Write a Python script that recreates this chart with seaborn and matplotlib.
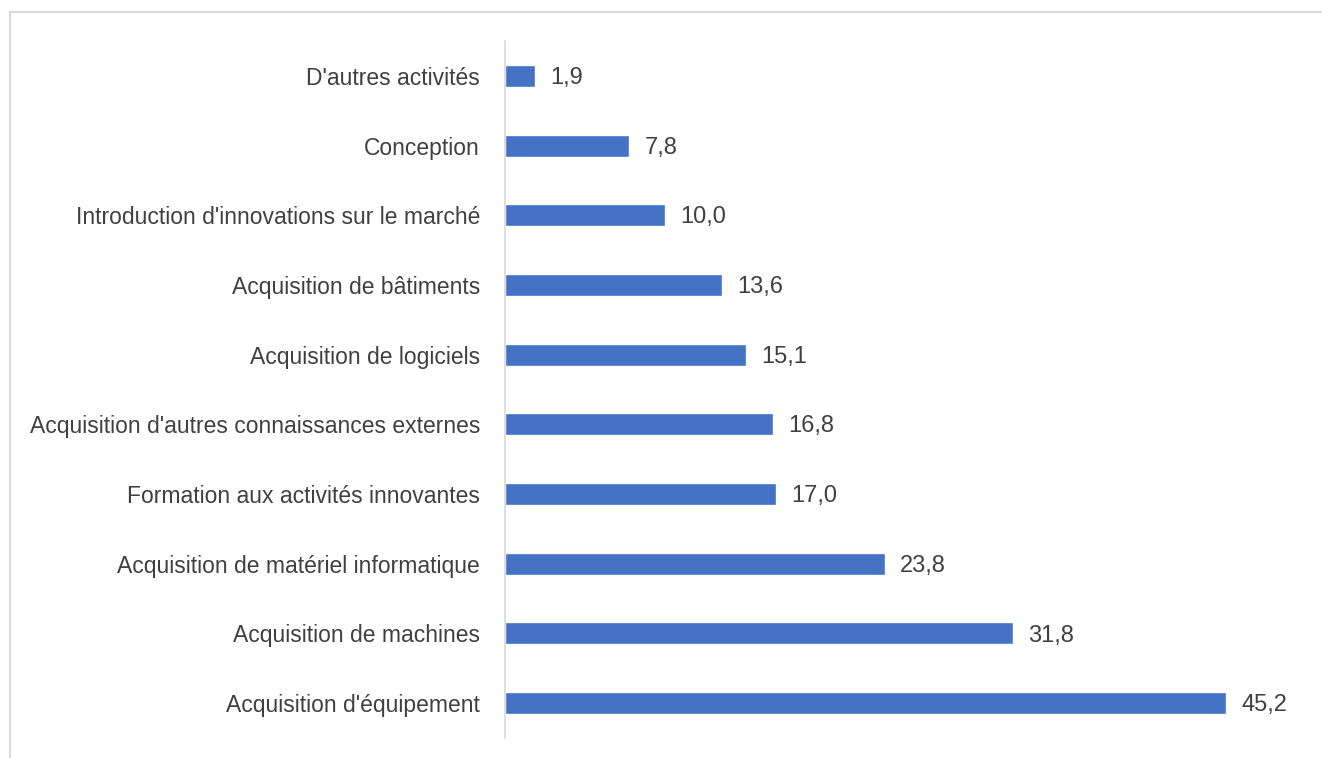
import matplotlib
matplotlib.use("Agg")
import matplotlib.pyplot as plt
import matplotlib.patches as mpatches
import seaborn as sns
import pandas as pd

# ── Data (top to bottom as in the chart) ─────────────────────
categories = [
    "D'autres activités",
    "Conception",
    "Introduction d'innovations sur le marché",
    "Acquisition de bâtiments",
    "Acquisition de logiciels",
    "Acquisition d'autres connaissances externes",
    "Formation aux activités innovantes",
    "Acquisition de matériel informatique",
    "Acquisition de machines",
    "Acquisition d'équipement",
]
values = [1.9, 7.8, 10.0, 13.6, 15.1, 16.8, 17.0, 23.8, 31.8, 45.2]

df = pd.DataFrame({"categorie": categories, "valeur": values})

sns.set_theme(style="white")
plt.rcParams["font.family"] = ["Liberation Sans Narrow", "Liberation Sans", "DejaVu Sans"]

BAR_COLOR = "#4472C4"
TEXT_COLOR = "#404040"

fig = plt.figure(figsize=(13.22, 7.58), dpi=100)
ax = fig.add_axes([505 / 1322, 1 - 738 / 758, (1303 - 505) / 1322, (738 - 41) / 758])

sns.barplot(data=df, x="valeur", y="categorie", color=BAR_COLOR,
            width=0.315, saturation=1, ax=ax)

# value labels with comma decimal
for i, v in enumerate(values):
    ax.annotate(f"{v:.1f}".replace(".", ","), xy=(v, i), xytext=(11, -1.5),
                textcoords="offset points", va="center", ha="left",
                fontsize=17, color=TEXT_COLOR)

ax.set_xlim(0, 50)
ax.set_ylim(9.5, -0.5)
ax.set_xlabel("")
ax.set_ylabel("")
ax.set_xticks([])
ax.tick_params(axis="y", length=0, pad=18, labelsize=16.5, labelcolor=TEXT_COLOR)

for side in ["top", "right", "bottom"]:
    ax.spines[side].set_visible(False)
ax.spines["left"].set_color("#d9d9d9")
ax.spines["left"].set_linewidth(1.2)

# light outer frame (chart area border)
frame = mpatches.Rectangle((10 / 1322, -0.1), 1.2, 1 - 12 / 758 + 0.1,
                           transform=fig.transFigure, fill=False,
                           edgecolor="#d9d9d9", linewidth=1.5)
fig.patches.append(frame)

fig.savefig("out.png", dpi=100)
